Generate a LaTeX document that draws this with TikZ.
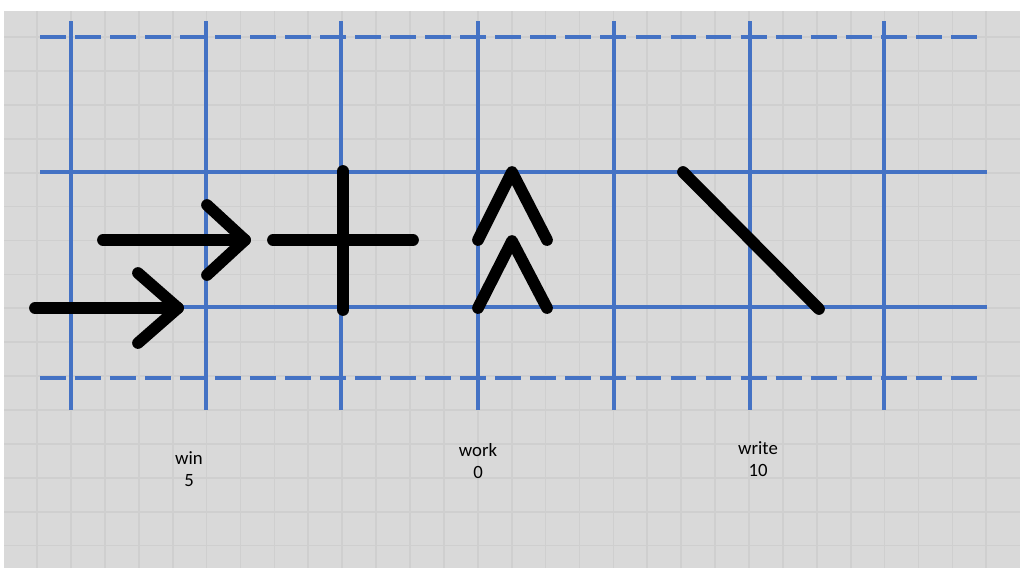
\documentclass[tikz,border=0pt]{standalone}
\usepackage{fontspec}
\setmainfont{Carlito}
\definecolor{paper}{HTML}{D9D9D9}
\definecolor{paperline}{HTML}{CFCFCF}
\definecolor{guide}{HTML}{4472C4}
\tikzset{
  gridline/.style={draw=paperline,line width=1.5pt},
  guideline/.style={draw=guide,line width=2.6pt},
  guidedash/.style={guideline,dash pattern=on 22.1pt off 7.8pt},
  stroke/.style={draw=black,line width=10pt,line cap=round,line join=round},
  lbl/.style={align=center,inner sep=0,font=\fontsize{16}{19}\selectfont}
}
\begin{document}
\begin{tikzpicture}[x=0.03cm,y=-0.03cm]
        \useasboundingbox (0,0) rectangle (1024,576);
        \fill[paper] (4,11) rectangle (1020,568);

        % squared paper
        \foreach \i in {1,...,29}
          \draw[gridline] ({3.2+33.9*\i},11) -- ({3.2+33.9*\i},568);
        \foreach \j in {1,...,16}
          \draw[gridline] (4,{3.2+33.9*\j}) -- (1020,{3.2+33.9*\j});

        % blue guides
        \foreach \x in {71,206,341,478,614,750,884}
          \draw[guideline] (\x,21) -- (\x,410);
        \draw[guideline] (40,172) -- (987,172);
        \draw[guideline] (40,307) -- (987,307);
        \draw[guidedash] (40,37) -- (981,37);
        \draw[guidedash] (40,378) -- (981,378);

        % strokes
        \coordinate (a1) at (35,308);
        \coordinate (a2) at (178,308);
        \coordinate (b1) at (103,240);
        \coordinate (b2) at (245,240);
        \coordinate (c1) at (273,240);
        \coordinate (c2) at (413,240);
        \coordinate (c3) at (343,171);
        \coordinate (c4) at (343,310);
        \coordinate (d1) at (512,172);
        \coordinate (d2) at (512,241);
        \coordinate (e1) at (683,172);
        \coordinate (e2) at (819,309);

        \draw[stroke] (a1) -- (a2);
        \draw[stroke] (138,273) -- (a2) -- (138,343);
        \draw[stroke] (b1) -- (b2);
        \draw[stroke] (207,205) -- (b2) -- (207,275);
        \draw[stroke] (c1) -- (c2);
        \draw[stroke] (c3) -- (c4);
        \draw[stroke] (478,240) -- (d1) -- (547,240);
        \draw[stroke] (478,308) -- (d2) -- (547,308);
        \draw[stroke] (e1) -- (e2);

        % labels
        \node[lbl] (win) at (189,469) {win\\5};
        \node[lbl] (work) at (478,461) {work\\0};
        \node[lbl] (write) at (758,459) {write\\10};
      \end{tikzpicture}
\end{document}
